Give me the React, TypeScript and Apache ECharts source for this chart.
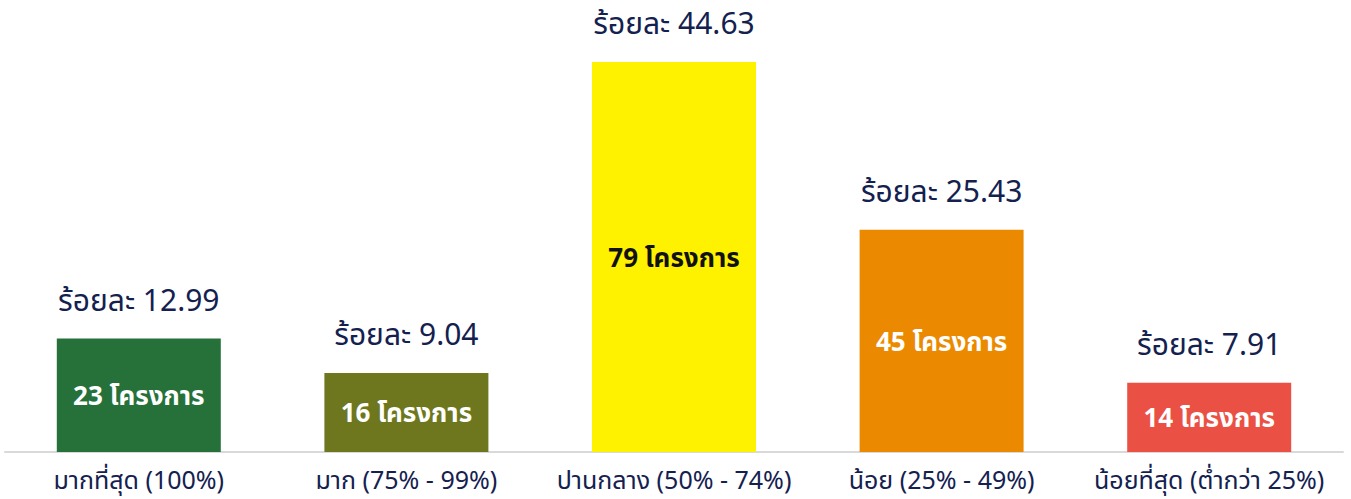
import React, { useEffect, useRef } from "react";
import * as echarts from "echarts";

const categories = [
  "มากที่สุด (100%)",
  "มาก (75% - 99%)",
  "ปานกลาง (50% - 74%)",
  "น้อย (25% - 49%)",
  "น้อยที่สุด (ต่ำกว่า 25%)",
];
const percents = [12.99, 9.04, 44.63, 25.43, 7.91];
const projects = [23, 16, 79, 45, 14];
const colors = ["#26713a", "#6e771e", "#fff200", "#eb8a00", "#ea5144"];
const innerTextColors = ["#ffffff", "#ffffff", "#111111", "#ffffff", "#ffffff"];

const NAVY = "#14214f";
const FONT = "'Noto Sans', 'Noto Sans Thai', 'Loma', 'Garuda', sans-serif";

export default function App() {
  const ref = useRef<HTMLDivElement>(null);
  useEffect(() => {
    document.body.style.margin = "0";
    const chart = echarts.init(ref.current!, null, { renderer: "svg" });
    const data = percents.map((v, i) => ({
      value: v,
      itemStyle: { color: colors[i] },
      label: { color: innerTextColors[i] },
    }));
    chart.setOption({
      animation: false,
      grid: { left: 5, right: 8, top: 15, bottom: 47, containLabel: false },
      xAxis: {
        type: "category",
        data: categories,
        axisLine: { show: true, lineStyle: { color: "#d9d9d9", width: 2 } },
        axisTick: { show: false },
        axisLabel: {
          color: NAVY,
          fontSize: 25,
          fontFamily: FONT,
          margin: 14,
          interval: 0,
        },
      },
      yAxis: {
        type: "value",
        min: 0,
        max: 50,
        show: false,
        splitLine: { show: false },
      },
      series: [
        {
          type: "bar",
          data,
          barWidth: 164,
          label: {
            show: true,
            position: "inside",
            fontSize: 26,
            fontWeight: "bold",
            fontFamily: FONT,
            formatter: (p: any) => `${projects[p.dataIndex]} โครงการ`,
          },
        },
        {
          type: "bar",
          data: percents,
          barWidth: 164,
          barGap: "-100%",
          itemStyle: { color: "transparent" },
          silent: true,
          label: {
            show: true,
            position: "top",
            distance: 24,
            color: NAVY,
            fontSize: 30,
            fontFamily: FONT,
            formatter: (p: any) => `ร้อยละ ${percents[p.dataIndex].toFixed(2)}`,
          },
        },
      ],
    });
    return () => chart.dispose();
  }, []);
  return <div ref={ref} style={{ width: 1351, height: 499 }} />;
}
